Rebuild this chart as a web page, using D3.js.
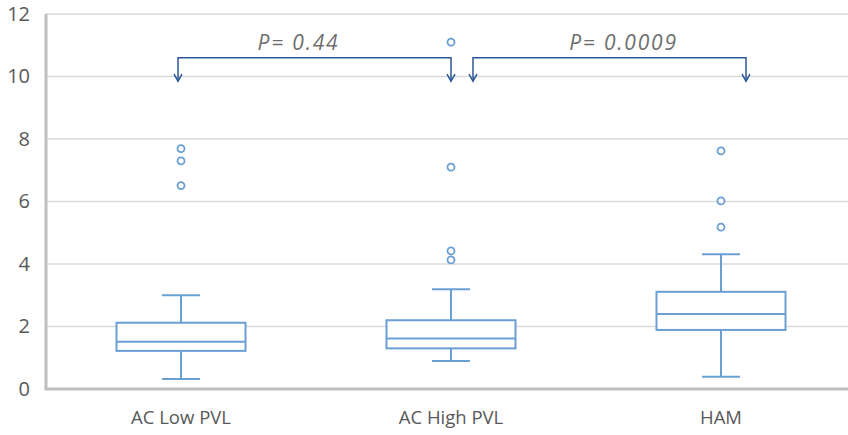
<!DOCTYPE html>
<html>
<head>
<meta charset="utf-8">
<script src="https://cdn.jsdelivr.net/npm/d3@7"></script>
<style>
  body { margin: 0; background: #fff; }
  text { font-family: "Open Sans", "Liberation Sans", sans-serif; fill: #595959; }
</style>
</head>
<body>
<div id="chart"></div>
<script>
// values
var groups = ["AC Low PVL", "AC High PVL", "HAM"];
var whiskerLow  = [0.32, 0.90, 0.39];
var q1          = [1.22, 1.30, 1.89];
var median      = [1.51, 1.62, 2.40];
var q3          = [2.12, 2.20, 3.11];
var whiskerHigh = [3.00, 3.19, 4.31];
var outliers    = [[6.51, 7.30, 7.69], [4.13, 4.42, 7.10, 11.10], [5.18, 6.02, 7.62]];
var yTicks = [0, 2, 4, 6, 8, 10, 12];
var comparisons = [
    {from: 0, to: 1, label: "P= 0.44"},
    {from: 1, to: 2, label: "P= 0.0009"}
];

var width = 848, height = 435;
var svg = d3.select("#chart").append("svg").attr("width", width).attr("height", height);

var x = d3.scaleBand().domain(groups).range([46, 856]);
var y = d3.scaleLinear().domain([0, 12]).range([389, 14]);
var boxW = 129, capW = 38;

// gridlines
svg.selectAll(".grid").data(yTicks.filter(function(d){ return d > 0; })).enter().append("line")
    .attr("x1", 46).attr("x2", width).attr("y1", function(d){ return y(d); }).attr("y2", function(d){ return y(d); })
    .attr("stroke", "#d9d9d9").attr("stroke-width", 1.5);

// y axis labels
var yAxis = d3.axisLeft(y).tickValues(yTicks).tickSize(0).tickPadding(16);
var gy = svg.append("g").attr("transform", "translate(46,0)").call(yAxis);
gy.select(".domain").remove();
gy.selectAll("text").attr("font-size", 20).style("fill", "#595959");

// axis lines
svg.append("line").attr("x1", 46).attr("x2", 46).attr("y1", y(12)).attr("y2", y(0))
    .attr("stroke", "#bfbfbf").attr("stroke-width", 3);
svg.append("line").attr("x1", 44.5).attr("x2", width).attr("y1", y(0)).attr("y2", y(0))
    .attr("stroke", "#bfbfbf").attr("stroke-width", 3);

// category labels
var xAxis = d3.axisBottom(x).tickSize(0).tickPadding(0);
var gx = svg.append("g").attr("transform", "translate(0," + y(0) + ")").call(xAxis);
gx.select(".domain").remove();
gx.selectAll("text").attr("font-size", 18.5).attr("dy", null).attr("y", 35).style("fill", "#595959");

var boxColor = "#6a9fd4";
var g = svg.selectAll(".box").data(groups).enter().append("g")
    .attr("transform", function(d){ return "translate(" + (x(d) + x.bandwidth() / 2) + ",0)"; });

// whiskers
g.append("line").attr("x1", 0).attr("x2", 0)
    .attr("y1", function(d,i){ return y(whiskerHigh[i]); }).attr("y2", function(d,i){ return y(q3[i]); })
    .attr("stroke", boxColor).attr("stroke-width", 2);
g.append("line").attr("x1", 0).attr("x2", 0)
    .attr("y1", function(d,i){ return y(q1[i]); }).attr("y2", function(d,i){ return y(whiskerLow[i]); })
    .attr("stroke", boxColor).attr("stroke-width", 2);
g.append("line").attr("x1", -capW/2).attr("x2", capW/2)
    .attr("y1", function(d,i){ return y(whiskerHigh[i]); }).attr("y2", function(d,i){ return y(whiskerHigh[i]); })
    .attr("stroke", boxColor).attr("stroke-width", 2);
g.append("line").attr("x1", -capW/2).attr("x2", capW/2)
    .attr("y1", function(d,i){ return y(whiskerLow[i]); }).attr("y2", function(d,i){ return y(whiskerLow[i]); })
    .attr("stroke", boxColor).attr("stroke-width", 2);

// boxes
g.append("rect").attr("x", -boxW/2).attr("width", boxW)
    .attr("y", function(d,i){ return y(q3[i]); })
    .attr("height", function(d,i){ return y(q1[i]) - y(q3[i]); })
    .attr("fill", "#fff").attr("stroke", boxColor).attr("stroke-width", 2);
g.append("line").attr("x1", -boxW/2).attr("x2", boxW/2)
    .attr("y1", function(d,i){ return y(median[i]); }).attr("y2", function(d,i){ return y(median[i]); })
    .attr("stroke", boxColor).attr("stroke-width", 2);

// outliers
g.selectAll(".out").data(function(d,i){ return outliers[i]; }).enter().append("circle")
    .attr("cx", 0).attr("cy", function(d){ return y(d); }).attr("r", 3.5)
    .attr("fill", "#fff").attr("stroke", boxColor).attr("stroke-width", 1.8);

// significance brackets
var bracketColor = "#2b5797";
var cx = function(i){ return x(groups[i]) + x.bandwidth() / 2; };
var offsets = [[-3, 0], [22, 25]];
var labelShift = [-16, 14];
comparisons.forEach(function(c, k){
    var x1 = cx(c.from) + offsets[k][0], x2 = cx(c.to) + offsets[k][1];
    var yb = y(10.6), ya = y(9.85);
    svg.append("path")
        .attr("d", "M" + x1 + "," + ya + "V" + yb + "H" + x2 + "V" + ya)
        .attr("fill", "none").attr("stroke", bracketColor).attr("stroke-width", 1.5);
    [x1, x2].forEach(function(xa){
        svg.append("path")
            .attr("d", "M" + (xa - 4) + "," + (ya - 7) + "L" + xa + "," + ya + "L" + (xa + 4) + "," + (ya - 7))
            .attr("fill", "none").attr("stroke", bracketColor).attr("stroke-width", 1.5);
    });
    svg.append("text").attr("x", (x1 + x2) / 2 + labelShift[k]).attr("y", 50)
        .attr("text-anchor", "middle").attr("font-size", 21).attr("font-style", "italic")
        .attr("letter-spacing", 1.8)
        .style("fill", "#6f6f6f").text(c.label);
});
</script>
</body>
</html>
